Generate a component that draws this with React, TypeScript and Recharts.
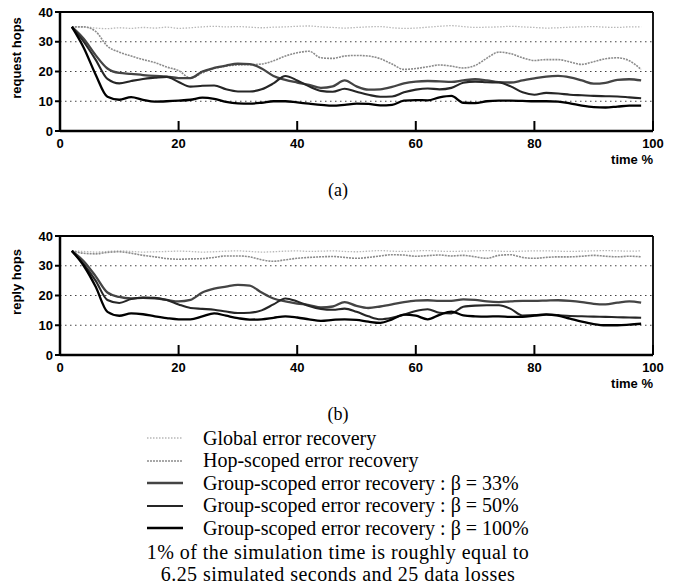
import { LineChart, Line, XAxis, YAxis, CartesianGrid } from 'recharts';

const TIME = [
  2, 4, 6, 8, 10, 12, 14, 16, 18, 20,
  22, 24, 26, 28, 30, 32, 34, 36, 38, 40,
  42, 44, 46, 48, 50, 52, 54, 56, 58, 60,
  62, 64, 66, 68, 70, 72, 74, 76, 78, 80,
  82, 84, 86, 88, 90, 92, 94, 96, 98,
];

// (a) request hops
const REQ_GLOBAL = [
  35, 35, 34.6, 34.4, 34.7, 34.5, 34.8, 34.6, 34.9, 34.5,
  34.7, 35, 35.2, 35, 35.1, 34.9, 34.7, 34.9, 35, 35.2,
  35.3, 35, 34.8, 34.6, 34.8, 35, 35.1, 34.7, 34.5, 34.6,
  34.9, 35.2, 35.4, 35.1, 34.8, 34.9, 35, 35.2, 35, 34.8,
  34.6, 34.7, 34.9, 35, 35.1, 34.9, 34.8, 35, 35,
];
const REQ_HOP = [
  35, 35, 33.5, 28.5, 26.5, 25.2, 24, 23, 21.5, 20.3,
  17.8, 19.5, 21, 21.8, 22.2, 22.3, 22.5, 23.6, 25.2, 26.3,
  26.8, 24.6, 24.4, 25.2, 25.4, 25.2, 24.3, 22.5, 20.7, 21,
  21.6, 22.2, 21.8, 21.2, 22, 24.5, 26.5, 26, 24.6, 23.7,
  24, 24, 23.2, 22.4, 23.3, 24.3, 24.6, 23.6, 20.7,
];
const REQ_G33 = [
  35, 31, 25.5, 21, 19.5, 19.2, 18.8, 18.5, 18.3, 17.8,
  17.8, 20, 21.2, 22, 22.6, 22.5, 21, 18.5, 17.2, 16.3,
  15.5, 14.5, 15, 17, 15, 13.9, 14, 14.8, 16, 16.6,
  16.8, 16.7, 16.5, 17, 17.4, 17, 16.4, 16.3, 17, 17.7,
  18.3, 18.5, 18, 17, 15.9, 16.2, 17.2, 17.4, 17,
];
const REQ_G50 = [
  35, 30, 24, 17.5, 16, 16.8, 17.5, 17.9, 18.2, 16.5,
  14.9, 15.2, 15.3, 14, 13.3, 13.3, 14, 16, 18.5, 17,
  15, 13.5, 13.2, 14.2, 13.2, 12.2, 11.5, 11.6, 13, 13.9,
  14.3, 14, 14.5, 16.2, 16.6, 16.4, 16.3, 15, 13, 12.2,
  12.8, 12.6, 12.2, 12, 11.8, 11.7, 11.6, 11.3, 11,
];
const REQ_G100 = [
  35, 28, 19, 11.5, 10.5, 11.4, 10.5, 9.9, 10, 10.2,
  10.5, 11.2, 10.8, 9.8, 9.3, 9.2, 9.5, 10, 10, 9.6,
  9.2, 8.8, 8.5, 8.8, 9.2, 9.1, 8.6, 8.8, 10.2, 10.4,
  10.3, 11.3, 11.8, 9.5, 9.4, 10, 10.2, 10.2, 10.1, 10,
  10, 9.9, 9.3, 8.5, 8, 7.9, 8.2, 8.5, 8.5,
];

// (b) reply hops
const RES_GLOBAL = [
  35, 34.8, 34.6, 34.8, 35, 34.8, 34.6, 34.7, 34.8, 34.9,
  34.8, 34.6, 34.7, 34.9, 35, 34.8, 34.6, 34.7, 34.9, 35,
  34.8, 34.9, 35, 34.8, 34.7, 34.9, 35.1, 34.9, 34.8, 35,
  35.1, 34.9, 34.8, 34.9, 35, 35.1, 34.9, 34.8, 34.9, 35,
  35, 34.9, 34.8, 34.9, 35, 35.1, 35, 34.9, 35,
];
const RES_HOP = [
  35, 34.2, 34, 34.5, 34.7, 34.2, 33.5, 33, 32.4, 32.2,
  32.3, 32.4, 32.8, 33.3, 33.3, 33, 32, 31.5, 32, 32.5,
  32.8, 33, 33.1, 32.8, 32.5, 32.8, 33.3, 33.7, 33.6, 33.2,
  33.4, 33.6, 33.3, 33.5, 33, 32.5, 33.5, 33.7, 32.8, 32.5,
  32.8, 33, 33, 33.2, 33.5, 33.2, 33, 33.2, 33,
];
const RES_G33 = [
  35, 31.5, 26.5, 21, 19.5, 19, 19.2, 19, 18.5, 18,
  18.5, 21, 22.3, 23, 23.6, 23.3, 21, 19, 18, 17.3,
  16.8, 16, 16.3, 17.8, 16.5, 15.8, 16.3, 17, 17.8, 18.3,
  18.4, 18.2, 18.2, 18.7, 18.5, 18, 17.8, 18, 18.2, 18.2,
  18.3, 18.4, 18.2, 17.8, 17.2, 17, 17.6, 18, 17.6,
];
const RES_G50 = [
  35, 30.5, 25, 18.5, 17.5, 18.8, 19.3, 19.2, 18.5, 17,
  15.8, 15.5, 15.2, 14.6, 14.1, 14.2, 15, 17, 19, 18,
  16.5, 15.5, 15.2, 15.6, 14.5, 13, 12, 12.5, 13.5, 14.8,
  15.4, 14.2, 14, 16.2, 16.6, 16.7, 16.7, 15.5, 13.3, 13.4,
  13.7, 13.4, 13.1, 13, 12.9, 12.8, 12.7, 12.6, 12.5,
];
const RES_G100 = [
  35, 30, 23, 14.5, 13.2, 14, 13.7, 13, 12.4, 12,
  12, 13, 14, 13.2, 12.4, 11.9, 12, 12.5, 13, 12.6,
  12, 11.5, 11.8, 12, 11.8, 11.2, 10.8, 12, 13.6, 13.2,
  12, 13.5, 14.6, 13.3, 13, 12.9, 13, 12.8, 12.8, 13.2,
  13.6, 13.2, 12.2, 11.2, 10.4, 10, 10, 10.2, 10.5,
];

const X_TICKS = [0, 20, 40, 60, 80, 100];
const Y_TICKS = [0, 10, 20, 30, 40];

const FOOTNOTE = [
  '1% of the simulation time is roughly equal to',
  '6.25 simulated seconds and 25 data losses',
];

const SERIES = [
  { key: 'global', name: 'Global error recovery', stroke: '#b8b8b8', width: 1.3, dash: '1.5 1.5' },
  { key: 'hop', name: 'Hop-scoped error recovery', stroke: '#8c8c8c', width: 1.6, dash: '2 1' },
  { key: 'g33', name: 'Group-scoped error recovery : β = 33%', stroke: '#444', width: 2.3, dash: undefined },
  { key: 'g50', name: 'Group-scoped error recovery : β = 50%', stroke: '#262626', width: 2.1, dash: undefined },
  { key: 'g100', name: 'Group-scoped error recovery : β = 100%', stroke: '#000', width: 2.3, dash: undefined },
];

const buildRows = (g: number[], h: number[], a: number[], b: number[], c: number[]) =>
  TIME.map((t, i) => ({ t, global: g[i], hop: h[i], g33: a[i], g50: b[i], g100: c[i] }));

const reqRows = buildRows(REQ_GLOBAL, REQ_HOP, REQ_G33, REQ_G50, REQ_G100);
const resRows = buildRows(RES_GLOBAL, RES_HOP, RES_G33, RES_G50, RES_G100);

const sans = '"Liberation Sans", Arial, Helvetica, sans-serif';
const serif = '"Liberation Serif", "Times New Roman", serif';
const tickStyle = { fill: '#000', fontSize: 13, fontWeight: 700, fontFamily: sans };

function Panel({ rows, yLabel, top, caption }: { rows: any[]; yLabel: string; top: number; caption: string }) {
  return (
    <div style={{ position: 'absolute', left: 0, top, width: 676, height: 200 }}>
      <LineChart width={676} height={160} data={rows} margin={{ top: 0, right: 0, bottom: 0, left: 0 }}>
        <CartesianGrid vertical={false} stroke="#444" strokeDasharray="1.5 3.5" />
        <XAxis
          dataKey="t"
          type="number"
          domain={[0, 100]}
          ticks={X_TICKS}
          interval={0}
          height={29}
          tickSize={-10}
          tickMargin={18}
          tick={tickStyle}
          axisLine={{ stroke: '#000', strokeWidth: 2.5 }}
          tickLine={{ stroke: '#000', strokeWidth: 2 }}
        />
        <XAxis
          xAxisId="top"
          orientation="top"
          type="number"
          domain={[0, 100]}
          ticks={[20, 40, 60, 80]}
          height={12}
          tickSize={-10}
          tick={false}
          axisLine={{ stroke: '#000', strokeWidth: 1.8 }}
          tickLine={{ stroke: '#000', strokeWidth: 2 }}
        />
        <YAxis
          type="number"
          domain={[0, 40]}
          ticks={Y_TICKS}
          width={60}
          tickSize={5}
          tickMargin={2}
          tick={tickStyle}
          axisLine={{ stroke: '#000', strokeWidth: 2.5 }}
          tickLine={{ stroke: '#000', strokeWidth: 2 }}
        />
        <YAxis
          yAxisId="right"
          orientation="right"
          type="number"
          domain={[0, 40]}
          ticks={[10, 20, 30]}
          width={23}
          tickSize={-10}
          tick={false}
          axisLine={{ stroke: '#000', strokeWidth: 1.8 }}
          tickLine={{ stroke: '#000', strokeWidth: 1.8 }}
        />
        {SERIES.map((s) => (
          <Line
            key={s.key}
            dataKey={s.key}
            name={s.name}
            type="monotone"
            stroke={s.stroke}
            strokeWidth={s.width}
            strokeDasharray={s.dash}
            dot={false}
            activeDot={false}
            isAnimationActive={false}
          />
        ))}
      </LineChart>
      <div
        style={{
          position: 'absolute', left: 16, top: 58, transform: 'translate(-50%, -50%) rotate(-90deg)',
          fontFamily: sans, fontWeight: 700, fontSize: 13, whiteSpace: 'nowrap',
        }}
      >
        {yLabel}
      </div>
      <div style={{ position: 'absolute', right: 23, top: 152, fontFamily: sans, fontWeight: 700, fontSize: 13 }}>
        time %
      </div>
      <div
        style={{
          position: 'absolute', left: 338, top: 190, transform: 'translate(-50%, -50%)',
          fontFamily: serif, fontSize: 18,
        }}
      >
        {caption}
      </div>
    </div>
  );
}

function LegendBlock() {
  return (
    <div style={{ position: 'absolute', left: 0, top: 427, width: 676, fontFamily: serif, fontSize: 20 }}>
      {SERIES.map((s, i) => (
        <div key={s.key} style={{ position: 'absolute', left: 146, top: i * 22.6, height: 22, display: 'flex', alignItems: 'center' }}>
          <svg width={38} height={10}>
            <line x1={1} x2={37} y1={5} y2={5} stroke={s.stroke} strokeWidth={s.width} strokeDasharray={s.dash} />
          </svg>
          <span style={{ marginLeft: 19, whiteSpace: 'nowrap' }}>{s.name}</span>
        </div>
      ))}
      {FOOTNOTE.map((line, i) => (
        <div
          key={i}
          style={{
            position: 'absolute', left: 0, width: 676, top: 114 + i * 22, height: 22, lineHeight: '22px',
            textAlign: 'center', fontSize: 20, letterSpacing: 0.45, whiteSpace: 'nowrap',
          }}
        >
          {line}
        </div>
      ))}
    </div>
  );
}

export default function App() {
  return (
    <div style={{ position: 'absolute', left: 0, top: 0, width: 676, height: 587, background: '#fff' }}>
      <Panel rows={reqRows} yLabel="request hops" top={0} caption="(a)" />
      <Panel rows={resRows} yLabel="reply hops" top={224} caption="(b)" />
      <LegendBlock />
    </div>
  );
}
